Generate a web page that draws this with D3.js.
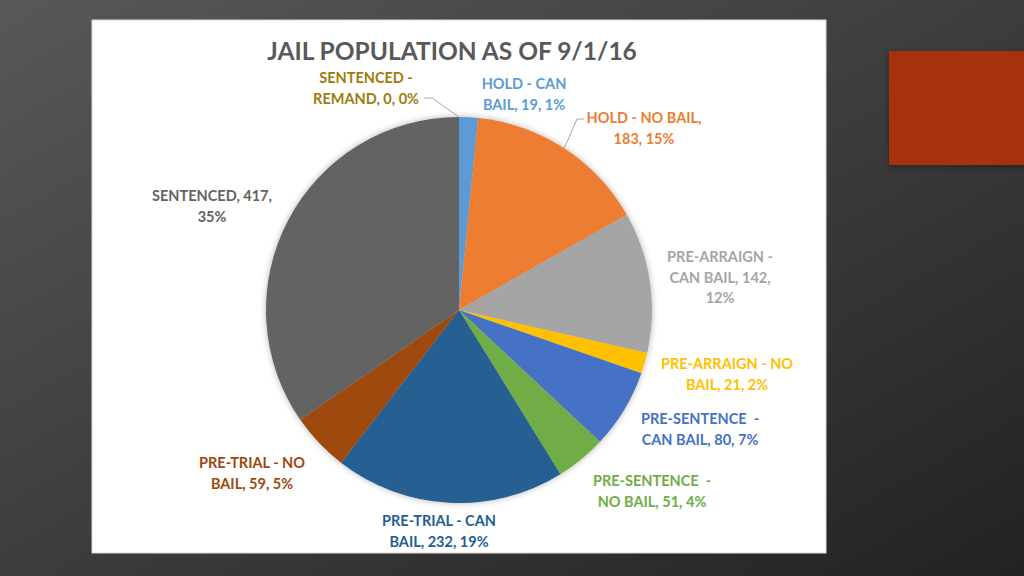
<!DOCTYPE html>
<html>
<head>
<meta charset="utf-8">
<script src="https://cdn.jsdelivr.net/npm/d3@7"></script>
<style>
html,body{margin:0;padding:0;background:#333;}
svg{display:block;}
text{font-family:Lato,"Open Sans",sans-serif;font-weight:bold;}
</style>
</head>
<body>
<svg id="chart" width="1024" height="576"></svg>
<script>
// ---- data ----
const categories = [
  "HOLD - CAN BAIL", "HOLD - NO BAIL", "PRE-ARRAIGN - CAN BAIL", "PRE-ARRAIGN - NO BAIL",
  "PRE-SENTENCE  - CAN BAIL", "PRE-SENTENCE  - NO BAIL", "PRE-TRIAL - CAN BAIL",
  "PRE-TRIAL - NO BAIL", "SENTENCED", "SENTENCED - REMAND"
];
const values = [19, 183, 142, 21, 80, 51, 232, 59, 417, 0];
const percentLabels = ["1%", "15%", "12%", "2%", "7%", "4%", "19%", "5%", "35%", "0%"];
const labelLines = [
  ["HOLD - CAN", "BAIL, 19, 1%"],
  ["HOLD - NO BAIL,", "183, 15%"],
  ["PRE-ARRAIGN -", "CAN BAIL, 142,", "12%"],
  ["PRE-ARRAIGN - NO", "BAIL, 21, 2%"],
  ["PRE-SENTENCE  -", "CAN BAIL, 80, 7%"],
  ["PRE-SENTENCE  -", "NO BAIL, 51, 4%"],
  ["PRE-TRIAL - CAN", "BAIL, 232, 19%"],
  ["PRE-TRIAL - NO", "BAIL, 59, 5%"],
  ["SENTENCED, 417,", "35%"],
  ["SENTENCED -", "REMAND, 0, 0%"]
];
const title = "JAIL POPULATION AS OF 9/1/16";

// ---- styles / layout ----
const colors = ["#5b9bd5", "#ed7d31", "#a5a5a5", "#ffc000", "#4472c4", "#70ad47",
                "#255e91", "#9e480e", "#636363", "#997300"];
const labelColors = ["#5b9bd5", "#ed7d31", "#a5a5a5", "#ffc000", "#4472c4", "#70ad47",
                "#255e91", "#9e480e", "#636363", "#9e7c0c"];
// label anchor (center x, first-line center y)
const labelAnchors = [
  [524, 84], [644, 118], [720, 257], [727, 364], [700, 419],
  [652, 481], [439, 521], [252, 463], [212, 196], [366, 78]
];
// leader line label-side points (for labels with leaders)
const leaders = { 1: [[584, 119], [577, 119]], 9: [[424, 98], [432, 98]] };

const W = 1024, H = 576;
const cx = 459, cy = 310, R = 193;

const svg = d3.select("#chart");
const defs = svg.append("defs");
const bg = defs.append("linearGradient").attr("id", "bg")
  .attr("x1", 0).attr("y1", 0).attr("x2", 1).attr("y2", 1);
bg.append("stop").attr("offset", 0).attr("stop-color", "#585858");
bg.append("stop").attr("offset", 0.55).attr("stop-color", "#3a3a3a");
bg.append("stop").attr("offset", 1).attr("stop-color", "#222222");
const sh = defs.append("filter").attr("id", "sh").attr("x", -0.1).attr("y", -0.1).attr("width", 1.2).attr("height", 1.3);
sh.append("feDropShadow").attr("dx", 0).attr("dy", 2).attr("stdDeviation", 3)
  .attr("flood-color", "#000").attr("flood-opacity", 0.35);
const psh = defs.append("filter").attr("id", "psh").attr("x", -0.1).attr("y", -0.1).attr("width", 1.2).attr("height", 1.2);
psh.append("feDropShadow").attr("dx", 0).attr("dy", 0).attr("stdDeviation", 3)
  .attr("flood-color", "#000").attr("flood-opacity", 0.3);

svg.append("rect").attr("width", W).attr("height", H).attr("fill", "url(#bg)");

// accent box
svg.append("rect").attr("x", 889).attr("y", 51).attr("width", 140).attr("height", 114)
  .attr("fill", "#a5300f").attr("filter", "url(#sh)");

// chart area
svg.append("rect").attr("x", 92).attr("y", 20).attr("width", 734).attr("height", 533)
  .attr("fill", "#ffffff").attr("stroke", "#d9d9d9").attr("stroke-width", 1);

svg.append("text").attr("x", 452).attr("y", 60).attr("text-anchor", "middle")
  .attr("font-size", 24.5).attr("fill", "#595959").text(title);

const pie = d3.pie().sort(null).value(d => d)(values);
const arc = d3.arc().innerRadius(0).outerRadius(R);
const g = svg.append("g").attr("transform", `translate(${cx},${cy})`);
g.append("g").attr("filter", "url(#psh)")
  .selectAll("path").data(pie).join("path")
  .attr("d", arc).attr("fill", (d, i) => colors[i]);

// leader lines
Object.keys(leaders).forEach(k => {
  const d = pie[+k];
  const a = (d.startAngle + d.endAngle) / 2;
  const p = [cx + R * Math.sin(a), cy - R * Math.cos(a)];
  const pts = leaders[k].concat([p]);
  svg.append("path").attr("d", d3.line()(pts)).attr("fill", "none")
    .attr("stroke", "#a6a6a6").attr("stroke-width", 1);
});

// labels
labelLines.forEach((lines, i) => {
  const t = svg.append("text").attr("text-anchor", "middle")
    .attr("font-size", 14.5).attr("fill", labelColors[i]);
  lines.forEach((ln, j) => {
    t.append("tspan").attr("x", labelAnchors[i][0])
      .attr("y", labelAnchors[i][1] + 5 + j * 20.5).attr("xml:space", "preserve").text(ln);
  });
});
</script>
</body>
</html>
